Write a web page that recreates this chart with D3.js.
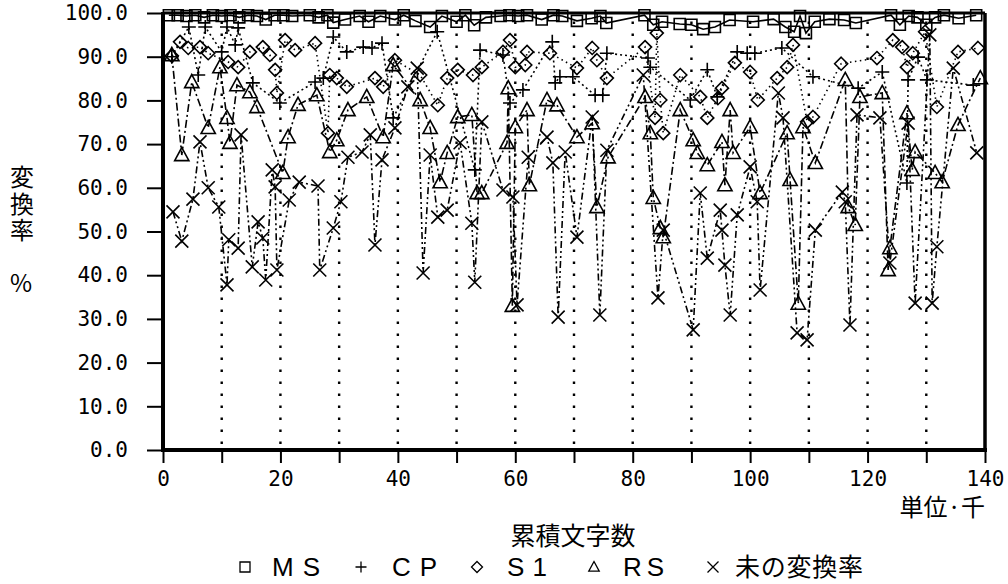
<!DOCTYPE html>
<html lang="ja">
<head>
	<meta charset="UTF-8">
	<title>変換率</title>
	<script type="text/javascript" src="https://cdn.jsdelivr.net/npm/d3@7"></script>
</head>
<style>
	body { margin: 0; background: #fff; }
	text { fill: #000; }
</style>
<body>
	<script type="text/javascript">
		var width = 1008;
		var height = 584;

		// [累積文字数(千), 変換率 %]
		var msData = [[1.0,99.5],[2.5,99.5],[4.0,99.3],[5.5,99.5],[7.0,99.0],[8.5,99.5],[10.0,99.3],[11.5,99.5],[13.0,99.0],[14.5,99.5],
			[16.0,99.3],[17.5,98.5],[19.0,99.5],[20.5,99.5],[22.0,99.3],[25.0,99.5],[26.5,99.0],[28.0,99.5],[29.0,97.8],[31.0,98.5],
			[33.5,99.3],[35.0,98.0],[37.0,99.3],[39.5,98.5],[41.0,99.5],[43.0,98.2],[45.5,96.8],[47.5,99.3],[50.0,98.0],[51.5,99.5],
			[53.0,97.2],[55.0,99.0],[57.5,99.3],[59.0,99.5],[60.5,99.3],[62.0,99.5],[64.5,98.5],[66.5,99.5],[68.0,99.3],[70.5,98.2],
			[73.0,98.8],[74.5,99.3],[75.5,97.7],[82.0,99.5],[83.5,97.3],[85.0,98.0],[88.0,97.5],[90.0,97.3],[92.0,96.3],[94.0,96.8],
			[96.5,98.4],[100.5,98.0],[104.0,98.6],[106.0,96.8],[107.5,95.7],[108.5,99.3],[109.5,95.4],[111.0,98.0],[113.5,98.6],[116.0,98.4],
			[118.0,97.7],[124.0,99.5],[125.5,97.3],[127.0,99.3],[128.5,99.0],[130.0,97.3],[131.5,99.0],[133.0,99.5],[135.5,98.8],[138.5,99.5]];

		var cpData = [[1.5,90.0],[4.4,96.8],[6.0,85.8],[7.2,96.8],[10.0,91.1],[10.9,96.8],[12.3,92.7],[12.8,96.6],[15.3,84.0],[19.9,79.4],
			[25.9,84.2],[27.3,85.1],[29.0,94.5],[31.3,91.1],[34.1,92.2],[35.6,92.0],[37.3,93.1],[39.2,76.0],[46.7,95.7],[53.1,64.1],
			[54.0,91.5],[57.9,90.4],[59.1,79.4],[61.3,82.4],[66.3,93.4],[66.8,84.0],[67.6,85.4],[69.8,85.4],[73.6,81.2],[74.9,81.2],
			[75.6,90.8],[82.6,89.7],[83.0,87.6],[89.8,80.1],[92.7,87.0],[94.4,80.8],[97.8,91.1],[99.5,90.8],[100.8,90.8],[105.4,92.0],
			[110.7,85.4],[118.4,82.8],[122.5,86.5],[126.7,61.1],[126.9,84.7],[128.6,89.9],[130.1,84.7],[138.0,83.5]];

		var s1Data = [[1.5,90.2],[2.9,93.4],[4.3,92.0],[6.3,92.2],[7.7,90.8],[11.1,88.8],[12.8,87.6],[14.8,91.1],[17.0,92.2],[18.2,90.4],
			[19.1,87.0],[19.4,81.7],[20.8,93.8],[22.5,91.5],[25.9,93.1],[28.1,72.5],[28.4,85.8],[29.6,85.1],[31.3,83.1],[36.1,85.1],
			[37.5,83.1],[39.5,89.2],[43.8,85.8],[46.8,78.9],[48.4,85.1],[50.2,87.0],[52.8,85.8],[54.3,87.6],[57.9,91.1],[59.1,93.8],
			[60.0,87.6],[61.7,88.1],[62.0,91.1],[65.9,90.8],[70.5,87.4],[73.1,92.0],[73.9,89.2],[75.6,85.1],[82.1,92.2],[83.8,76.0],
			[84.1,95.4],[84.7,80.1],[85.2,72.5],[88.1,85.8],[91.5,80.8],[92.7,76.0],[94.5,80.5],[95.2,82.8],[97.4,88.6],[100.0,86.5],
			[101.3,80.1],[104.6,85.1],[106.3,87.6],[107.3,92.7],[109.7,75.1],[110.7,76.2],[115.5,88.4],[121.6,89.7],[124.3,93.8],[125.9,92.2],
			[126.7,87.6],[127.7,90.8],[129.8,95.7],[131.8,78.5],[135.4,91.1],[138.8,92.0]];

		var rsData = [[1.5,90.4],[3.2,67.5],[4.9,84.2],[7.7,73.7],[9.7,87.6],[10.9,76.0],[11.4,70.3],[12.6,83.5],[14.8,81.9],[16.0,78.5],
			[20.4,63.4],[21.3,71.6],[23.0,79.0],[26.2,81.2],[28.4,68.2],[29.6,70.9],[31.5,77.8],[34.7,80.8],[37.5,71.6],[39.2,88.1],
			[43.8,80.1],[45.5,73.7],[47.2,61.3],[48.4,68.0],[50.2,76.2],[52.6,76.7],[53.5,58.8],[54.3,58.8],[58.6,70.3],[58.8,82.8],
			[59.5,33.0],[60.0,73.9],[62.0,77.8],[62.4,60.6],[65.4,80.1],[67.1,78.9],[70.5,71.6],[73.1,74.8],[73.9,55.6],[75.8,67.0],
			[82.1,80.8],[83.0,72.5],[83.5,57.7],[84.7,50.8],[85.2,48.7],[88.1,77.8],[90.3,70.9],[91.0,68.0],[92.7,65.2],[95.2,70.5],
			[95.7,60.6],[96.6,77.8],[97.1,68.0],[100.0,73.9],[101.7,58.8],[106.3,72.5],[106.8,61.8],[108.2,33.5],[109.0,73.9],[111.1,65.7],
			[116.2,84.7],[116.7,55.6],[117.9,51.5],[118.7,80.8],[122.5,81.7],[123.5,41.2],[123.8,46.2],[126.7,77.1],[127.6,64.1],[128.1,68.2],
			[131.5,63.4],[132.7,61.3],[135.4,74.4],[139.2,85.1]];

		var ukData = [[1.7,54.5],[3.2,47.8],[5.1,57.4],[6.3,70.5],[7.7,60.0],[9.5,55.6],[10.9,37.8],[11.2,48.1],[12.8,46.2],[13.3,72.1],
			[15.2,41.9],[16.2,52.2],[17.0,48.5],[17.5,38.9],[18.6,64.1],[19.1,60.2],[19.4,41.2],[21.5,57.2],[23.2,61.3],[26.4,60.4],
			[26.7,41.2],[29.0,50.8],[30.3,56.8],[31.5,67.0],[33.9,68.2],[35.3,72.1],[36.1,46.9],[37.3,66.4],[39.5,73.7],[41.7,83.1],
			[43.3,87.4],[44.3,40.5],[45.5,67.5],[46.8,53.3],[48.4,54.9],[50.6,70.3],[52.6,51.9],[53.1,38.4],[54.3,75.1],[57.9,59.5],
			[59.6,57.9],[60.3,33.2],[62.2,67.0],[65.4,71.6],[66.4,65.7],[67.3,30.4],[68.5,68.2],[70.5,48.7],[73.1,76.2],[74.4,30.9],
			[75.6,68.6],[81.8,85.8],[84.3,34.8],[85.2,50.3],[90.3,27.5],[91.5,58.8],[92.7,43.9],[94.9,54.9],[95.2,50.3],[95.7,42.3],
			[96.6,30.9],[97.8,53.8],[100.0,64.8],[101.2,56.8],[101.7,36.6],[104.8,81.7],[105.6,76.0],[108.0,26.8],[109.7,25.2],[111.1,50.3],
			[115.7,59.0],[116.2,56.8],[117.0,28.6],[118.2,76.7],[122.1,76.0],[123.8,42.8],[126.9,74.8],[128.1,33.6],[130.6,95.0],[131.0,33.6],
			[131.8,46.5],[134.6,87.4],[138.6,68.0]];

		var yTicks = [0, 10, 20, 30, 40, 50, 60, 70, 80, 90, 100];
		var xTicks = [0, 10, 20, 30, 40, 50, 60, 70, 80, 90, 100, 110, 120, 130, 140];
		var gridX = [10, 20, 30, 40, 50, 60, 70, 80, 90, 100, 110, 120, 130];
		var legendNames = ['MS', 'CP', 'S1', 'RS', '未の変換率'];

		var x = d3.scaleLinear().domain([0, 140]).range([163, 985]);
		var y = d3.scaleLinear().domain([0, 100]).range([450, 13]);

		var svg = d3.select('body')
					.append('svg')
					.attr('width', width)
					.attr('height', height)
					.style('background', '#fff');

		var mono = '"DejaVu Sans Mono", monospace';
		var jp = '"Noto Sans CJK JP", sans-serif';

		// dotted vertical grid
		svg.selectAll('line.grid')
		   .data(gridX)
		   .enter()
		   .append('line')
		   .attr('class', 'grid')
		   .attr('x1', function(d){ return x(d); })
		   .attr('x2', function(d){ return x(d); })
		   .attr('y1', y(0) - 6)
		   .attr('y2', y(100))
		   .attr('stroke', '#000')
		   .attr('stroke-width', 2.4)
		   .attr('stroke-dasharray', '2.4,9.6');

		// axes
		var yAxis = d3.axisLeft(y).tickValues(yTicks).tickSize(16).tickSizeOuter(0).tickPadding(19)
					  .tickFormat(d3.format('.1f'));
		var gy = svg.append('g').attr('transform', 'translate(' + x(0) + ',0)').call(yAxis);
		var xAxis = d3.axisBottom(x).tickValues(xTicks).tickSize(13).tickSizeOuter(0).tickPadding(8)
					  .tickFormat(function(d){ return d % 20 === 0 ? d : ''; });
		var gx = svg.append('g').attr('transform', 'translate(0,' + y(0) + ')').call(xAxis);
		[gx, gy].forEach(function(g){
			g.select('.domain').remove();
			g.selectAll('line').attr('stroke', '#000').attr('stroke-width', 2);
			g.selectAll('text').style('font-family', mono).style('font-size', '21px').attr('fill', '#000');
		});

		// series lines
		var line = d3.line().x(function(d){ return x(d[0]); }).y(function(d){ return y(d[1]); });
		var series = [
			{ data: msData, dash: null, sym: 'sq' },
			{ data: cpData, dash: '2,3', sym: 'plus' },
			{ data: s1Data, dash: '1.5,3.5', sym: 'dia' },
			{ data: rsData, dash: '8,3,2,3', sym: 'tri' },
			{ data: ukData, dash: '7,3,2,3,2,3', sym: 'x' }
		];

		series.forEach(function(s){
			svg.append('path')
			   .datum(s.data)
			   .attr('d', line)
			   .attr('fill', 'none')
			   .attr('stroke', '#000')
			   .attr('stroke-width', 1.6)
			   .attr('stroke-dasharray', s.dash);
		});

		function symPath(sym, r) {
			if (sym === 'sq') return 'M' + (-r) + ',' + (-r) + 'h' + 2*r + 'v' + 2*r + 'h' + (-2*r) + 'Z';
			if (sym === 'dia') return 'M0,' + (-r) + 'L' + r + ',0L0,' + r + 'L' + (-r) + ',0Z';
			if (sym === 'tri') return 'M0,' + (-r) + 'L' + (r*0.95) + ',' + (r*0.75) + 'L' + (-r*0.95) + ',' + (r*0.75) + 'Z';
			if (sym === 'plus') return 'M' + (-r) + ',0H' + r + 'M0,' + (-r) + 'V' + r;
			return 'M' + (-r) + ',' + (-r) + 'L' + r + ',' + r + 'M' + r + ',' + (-r) + 'L' + (-r) + ',' + r;
		}
		var symSize = { sq: 5.5, dia: 6.5, tri: 7.5, plus: 7, x: 6.5 };

		series.forEach(function(s){
			svg.selectAll(null)
			   .data(s.data)
			   .enter()
			   .append('path')
			   .attr('transform', function(d){ return 'translate(' + x(d[0]) + ',' + y(d[1]) + ')'; })
			   .attr('d', symPath(s.sym, symSize[s.sym]))
			   .attr('fill', 'none')
			   .attr('stroke', '#000')
			   .attr('stroke-width', 1.6);
		});

		// frame
		svg.append('line').attr('x1', x(0)).attr('x2', x(0)).attr('y1', y(100) - 1).attr('y2', y(0) + 2)
		   .attr('stroke', '#000').attr('stroke-width', 4);
		svg.append('line').attr('x1', x(0) - 2).attr('x2', x(140) + 2).attr('y1', y(0)).attr('y2', y(0))
		   .attr('stroke', '#000').attr('stroke-width', 4);
		svg.append('line').attr('x1', x(140)).attr('x2', x(140)).attr('y1', y(100)).attr('y2', y(0))
		   .attr('stroke', '#000').attr('stroke-width', 3.5);
		svg.append('line').attr('x1', x(0)).attr('x2', x(140)).attr('y1', y(100)).attr('y2', y(100))
		   .attr('stroke', '#000').attr('stroke-width', 3);

		// titles
		svg.append('text')
		   .attr('x', 22)
		   .attr('y', 165)
		   .style('writing-mode', 'vertical-rl')
		   .style('font-family', jp)
		   .style('font-size', '24px')
		   .style('letter-spacing', '2.5px')
		   .text('変換率');
		svg.append('text').attr('x', 21).attr('y', 292).attr('text-anchor', 'middle')
		   .style('font-family', jp).style('font-size', '24px').text('%');

		svg.append('text').attr('x', 985).attr('y', 516).attr('text-anchor', 'end')
		   .style('font-family', jp).style('font-size', '24px').text('単位·千');
		svg.append('text').attr('x', 573).attr('y', 545).attr('text-anchor', 'middle')
		   .style('font-family', jp).style('font-size', '25px').text('累積文字数');

		// legend
		var legX = [245, 361, 477, 594, 713];
		var legTextX = [272, 392, 507, 623, 735];
		var legW = [48, 45, 40, 41, 128];
		var legY = 567;
		series.forEach(function(s, i){
			svg.append('path')
			   .attr('transform', 'translate(' + legX[i] + ',' + legY + ')')
			   .attr('d', symPath(s.sym, s.sym === 'sq' ? 5 : 5.5))
			   .attr('fill', 'none')
			   .attr('stroke', '#000')
			   .attr('stroke-width', 1.3);
			svg.append('text')
			   .attr('x', legTextX[i])
			   .attr('y', legY + 9)
			   .attr('textLength', legW[i])
			   .attr('lengthAdjust', 'spacing')
			   .style('font-family', i === 4 ? jp : '"Liberation Sans", sans-serif')
			   .style('font-size', i === 4 ? '25px' : '26px')
			   .text(legendNames[i]);
		});
	</script>
</body>
</html>
